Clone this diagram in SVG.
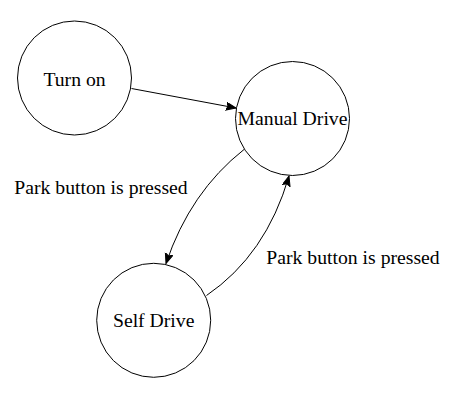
<svg xmlns="http://www.w3.org/2000/svg" width="465" height="403" viewBox="0 0 465 403">
<style>
.node{fill:#fff;stroke:#000;stroke-width:1}
.lbl{font-family:"Liberation Serif","Times New Roman",serif;font-size:19.7px;fill:#000}
.edge{fill:none;stroke:#000;stroke-width:1}
</style>
<defs>
<marker id="arr" markerUnits="userSpaceOnUse" markerWidth="12" markerHeight="10" refX="10" refY="4" orient="auto">
<path d="M0,0 L10,4 L0,8 L2,4 z" fill="#000" stroke="#000" stroke-width="1"/>
</marker>
</defs>
<rect width="465" height="403" fill="#fff"/>
<g id="connectors">
<path class="edge" d="M131.5,88.5 L236,108" marker-end="url(#arr)"/>
<path class="edge" d="M244,149.5 Q190,192 166,263.5" marker-end="url(#arr)"/>
<path class="edge" d="M206.5,295.5 Q266,255 289,176" marker-end="url(#arr)"/>
<text class="lbl" x="101" y="193.5" text-anchor="middle">Park button is pressed</text>
<text class="lbl" x="353" y="263.5" text-anchor="middle">Park button is pressed</text>
</g>
<g id="turn-on">
<circle class="node" cx="74.5" cy="78" r="57"/>
<text class="lbl" x="74.5" y="86" text-anchor="middle">Turn on</text>
</g>
<g id="manual-drive">
<circle class="node" cx="292.5" cy="118.5" r="57"/>
<text class="lbl" x="292.5" y="125" text-anchor="middle">Manual Drive</text>
</g>
<g id="self-drive">
<circle class="node" cx="153.7" cy="320.3" r="57"/>
<text class="lbl" x="153.7" y="327.3" text-anchor="middle">Self Drive</text>
</g>
</svg>
